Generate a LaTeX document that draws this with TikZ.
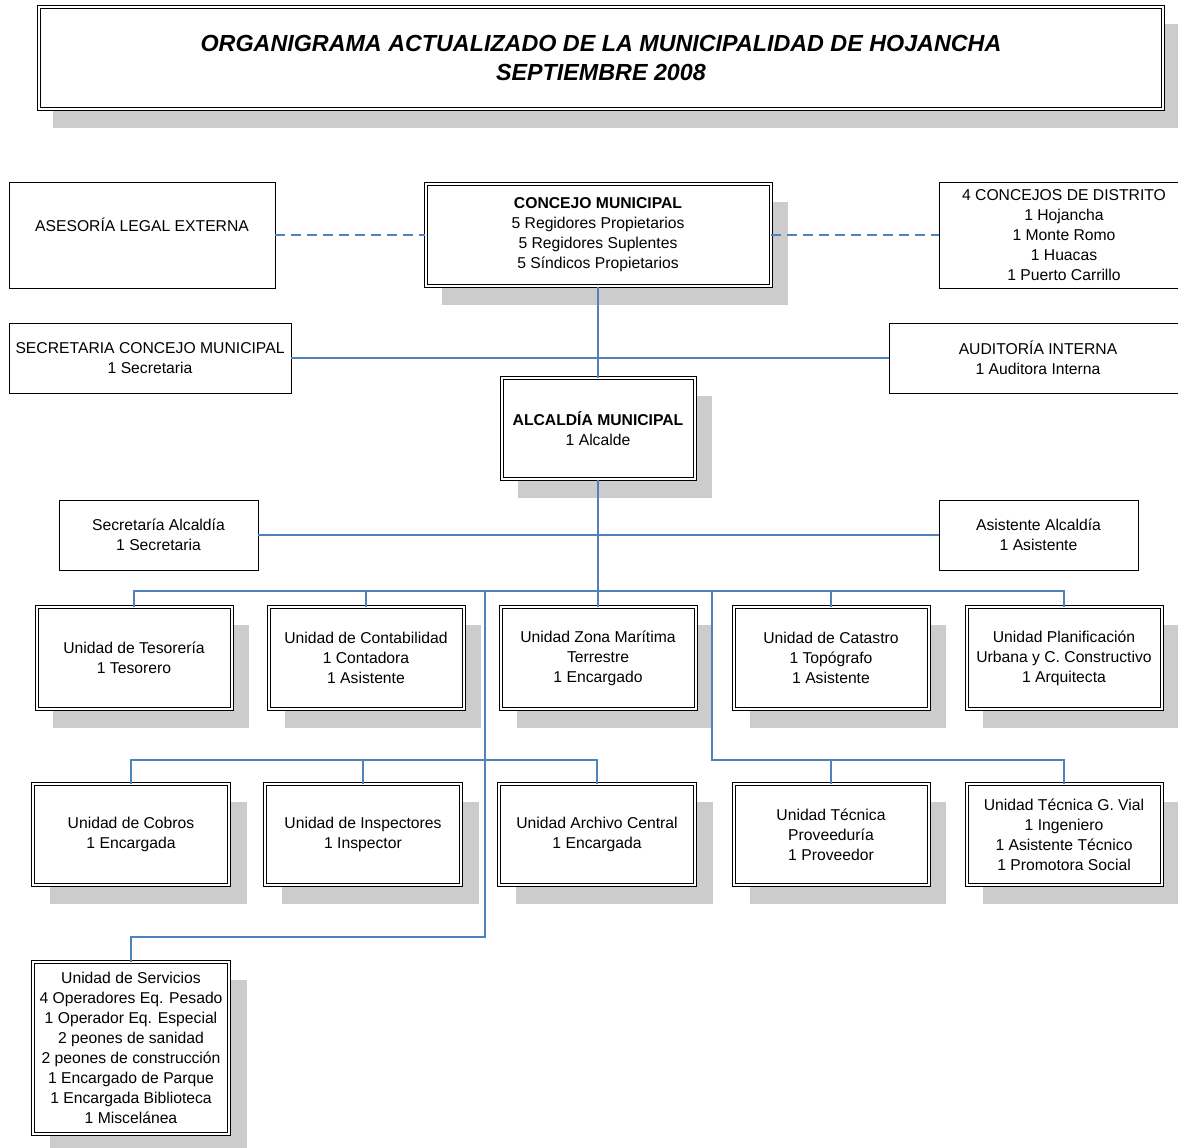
\documentclass[tikz,border=0pt]{standalone}
\usepackage{fontspec}
\setmainfont{Liberation Sans}
\usetikzlibrary{backgrounds}

\definecolor{linkblue}{RGB}{79,129,189}
\definecolor{shadowgray}{RGB}{204,204,204}
\newcommand{\orgfont}{\fontsize{15.7pt}{20pt}\selectfont}
\newcommand{\titlefont}{\fontsize{23.3pt}{29pt}\selectfont\bfseries\itshape}

\tikzset{
  unitbox/.style={draw, double, line width=1pt, double distance=2pt, fill=white,
    align=center, font=\orgfont, inner sep=0pt},
  plainbox/.style={draw, line width=0.9pt, fill=white, align=center,
    font=\orgfont, inner sep=0pt},
  link/.style={draw=linkblue, line width=1.3pt},
  dashlink/.style={link, dash pattern=on 10pt off 6pt},
  dropshade/.style={fill=shadowgray}
}

\begin{document}
\begin{tikzpicture}[x=1pt, y=-1pt]
\useasboundingbox (0, 0) rectangle (1178, 1148);

% title
\node[unitbox, font=\titlefont, minimum width=1124pt, minimum height=102pt] (title) at (601, 58)
  {ORGANIGRAMA ACTUALIZADO DE LA MUNICIPALIDAD DE HOJANCHA\\SEPTIEMBRE 2008};

% concejo
\node[plainbox, minimum width=266pt, minimum height=106pt] (asesoria) at (142, 235)
  {ASESORÍA LEGAL EXTERNA\\~};
\node[unitbox, minimum width=345pt, minimum height=102pt] (concejo) at (598, 235)
  {\textbf{CONCEJO MUNICIPAL}\\5 Regidores Propietarios\\5 Regidores Suplentes\\5 Síndicos Propietarios};
\node[plainbox, minimum width=250pt, minimum height=106pt] (distrito) at (1064, 235)
  {4 CONCEJOS DE DISTRITO\\1 Hojancha\\1 Monte Romo\\1 Huacas\\1 Puerto Carrillo};
\node[plainbox, minimum width=282pt, minimum height=70pt] (secconcejo) at (150, 358)
  {SECRETARIA CONCEJO MUNICIPAL\\1 Secretaria};
\node[plainbox, minimum width=298pt, minimum height=70pt] (auditoria) at (1038, 358)
  {AUDITORÍA INTERNA\\1 Auditora Interna};

% alcaldia
\node[unitbox, minimum width=193pt, minimum height=101pt] (alcaldia) at (598, 428.5)
  {\textbf{ALCALDÍA MUNICIPAL}\\1 Alcalde};
\node[plainbox, minimum width=199pt, minimum height=70pt] (secalcaldia) at (158.5, 535)
  {Secretaría Alcaldía\\1 Secretaria};
\node[plainbox, minimum width=199pt, minimum height=70pt] (asistente) at (1038.5, 535)
  {Asistente Alcaldía\\1 Asistente};

% unidades, primera fila
\node[unitbox, minimum width=195pt, minimum height=102pt] (tesoreria) at (134, 658)
  {Unidad de Tesorería\\1 Tesorero};
\node[unitbox, minimum width=195pt, minimum height=102pt] (contabilidad) at (366, 658)
  {Unidad de Contabilidad\\1 Contadora\\1 Asistente};
\node[unitbox, minimum width=195pt, minimum height=102pt] (zmt) at (598, 658)
  {Unidad Zona Marítima\\Terrestre\\1 Encargado};
\node[unitbox, minimum width=195pt, minimum height=102pt] (catastro) at (831, 658)
  {Unidad de Catastro\\1 Topógrafo\\1 Asistente};
\node[unitbox, minimum width=195pt, minimum height=102pt] (planificacion) at (1064, 658)
  {Unidad Planificación\\Urbana y C. Constructivo\\1 Arquitecta};

% unidades, segunda fila
\node[unitbox, minimum width=196pt, minimum height=101pt] (cobros) at (131, 834.5)
  {Unidad de Cobros\\1 Encargada};
\node[unitbox, minimum width=196pt, minimum height=101pt] (inspectores) at (363, 834.5)
  {Unidad de Inspectores\\1 Inspector};
\node[unitbox, minimum width=196pt, minimum height=101pt] (archivo) at (597, 834.5)
  {Unidad Archivo Central\\1 Encargada};
\node[unitbox, minimum width=195pt, minimum height=101pt] (proveeduria) at (831, 834.5)
  {Unidad Técnica\\Proveeduría\\1 Proveedor};
\node[unitbox, minimum width=195pt, minimum height=101pt] (vial) at (1064, 834.5)
  {Unidad Técnica G. Vial\\1 Ingeniero\\1 Asistente Técnico\\1 Promotora Social};

% servicios
\node[unitbox, minimum width=196pt, minimum height=172pt] (servicios) at (131, 1048)
  {Unidad de Servicios\\4 Operadores Eq. Pesado\\1 Operador Eq. Especial\\2 peones de sanidad\\
   2 peones de construcción\\1 Encargado de Parque\\1 Encargada Biblioteca\\1 Miscelánea};

% sombras
\begin{scope}[on background layer]
\fill[dropshade] ([shift={(14,18)}]title.south west) rectangle ([shift={(14,18)}]title.north east);
\fill[dropshade] ([shift={(17,18)}]concejo.south west) rectangle ([shift={(17,18)}]concejo.north east);
\fill[dropshade] ([shift={(17,18)}]alcaldia.south west) rectangle ([shift={(17,18)}]alcaldia.north east);
\fill[dropshade] ([shift={(17,18)}]tesoreria.south west) rectangle ([shift={(17,18)}]tesoreria.north east);
\fill[dropshade] ([shift={(17,18)}]contabilidad.south west) rectangle ([shift={(17,18)}]contabilidad.north east);
\fill[dropshade] ([shift={(17,18)}]zmt.south west) rectangle ([shift={(17,18)}]zmt.north east);
\fill[dropshade] ([shift={(17,18)}]catastro.south west) rectangle ([shift={(17,18)}]catastro.north east);
\fill[dropshade] ([shift={(17,18)}]planificacion.south west) rectangle ([shift={(17,18)}]planificacion.north east);
\fill[dropshade] ([shift={(17,18)}]cobros.south west) rectangle ([shift={(17,18)}]cobros.north east);
\fill[dropshade] ([shift={(17,18)}]inspectores.south west) rectangle ([shift={(17,18)}]inspectores.north east);
\fill[dropshade] ([shift={(17,18)}]archivo.south west) rectangle ([shift={(17,18)}]archivo.north east);
\fill[dropshade] ([shift={(17,18)}]proveeduria.south west) rectangle ([shift={(17,18)}]proveeduria.north east);
\fill[dropshade] ([shift={(17,18)}]vial.south west) rectangle ([shift={(17,18)}]vial.north east);
\fill[dropshade] ([shift={(17,18)}]servicios.south west) rectangle ([shift={(17,18)}]servicios.north east);
\end{scope}

% lineas
\coordinate (bus) at (598, 591);
\coordinate (busleft) at (485, 591);
\coordinate (busright) at (712, 591);
\coordinate (rowleft) at (485, 760);
\coordinate (rowright) at (712, 760);
\coordinate (servbend) at (485, 937);

\draw[dashlink] (asesoria.east) -- (concejo.west);
\draw[dashlink] (concejo.east) -- (distrito.west);
\draw[link] (concejo.south) -- (alcaldia.north);
\draw[link] (secconcejo.east) -- (auditoria.west);
\draw[link] (secalcaldia.east) -- (asistente.west);
\draw[link] (alcaldia.south) -- (zmt.north);
\draw[link] (tesoreria.north) |- (bus) -| (planificacion.north);
\draw[link] (contabilidad.north) -- (contabilidad.north |- bus);
\draw[link] (catastro.north) -- (catastro.north |- bus);
\draw[link] (busleft) -- (servbend) -| (servicios.north);
\draw[link] (cobros.north) |- (rowleft) -| (archivo.north);
\draw[link] (inspectores.north) -- (inspectores.north |- rowleft);
\draw[link] (busright) -- (rowright) -| (vial.north);
\draw[link] (proveeduria.north) -- (proveeduria.north |- rowright);
\end{tikzpicture}
\end{document}
